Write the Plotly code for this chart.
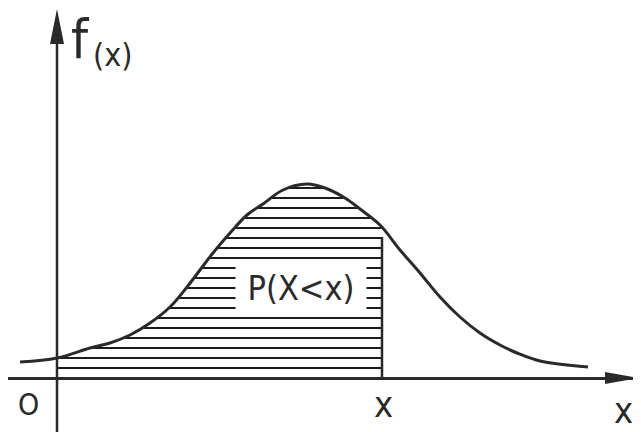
import plotly.graph_objects

# 曲線 f(x) 的讀值 (以 y 軸為 x=0, x 軸為 f=0)
curve_x = [-37, 0, 33, 53, 73, 93, 113, 130, 143, 156, 173, 190, 206, 226, 250, 268, 288, 303, 323, 343, 363, 383, 403, 423, 443, 460, 483, 531]
curve_f = [16, 20, 30, 35, 43, 55, 71, 91, 108, 125, 145, 163, 174, 188, 194, 190, 180, 169, 153, 128, 105, 81, 61, 45, 33, 25, 17, 11]

# 陰影區域 P(X<x) 的邊界
shade_x = [0, 33, 53, 73, 93, 113, 130, 143, 156, 173, 190, 206, 226, 250, 268, 288, 303, 325]
shade_f = [20, 30, 35, 43, 55, 71, 91, 108, 125, 145, 163, 174, 188, 194, 190, 180, 169, 151]

# x 值與其垂直線高度
x_value = 325
x_line_top = 141

# 文字標籤
label_prob = 'P(X<x)'
label_f = 'f'
label_fx = '(x)'
label_origin = 'O'
label_x_value = 'x'
label_x_axis = 'x'

ink = '#2a2a2a'
font_family = 'DejaVu Sans Condensed, DejaVu Sans'
hatch_step = 10
plot_top = 370


def text(x, y, s, size):
    return dict(
        x=x, y=y, xref='x', yref='y', text=s, showarrow=False,
        font=dict(family=font_family, size=size, color=ink),
    )


figure = plotly.graph_objects.Figure()

# 陰影橫線: 從 y 軸畫到 x, 曲線上方再用白色遮掉
hatch_x = []
hatch_y = []
for level in range(hatch_step, max(shade_f), hatch_step):
    hatch_x += [shade_x[0], x_value, None]
    hatch_y += [level, level, None]
figure.add_trace(
    plotly.graph_objects.Scatter(
        x=hatch_x, y=hatch_y, mode='lines',
        line=dict(width=2, color='#1c1c1c'),
        hoverinfo='skip',
    )
)
figure.add_trace(
    plotly.graph_objects.Scatter(
        x=shade_x, y=[plot_top] * len(shade_x), mode='lines',
        line=dict(width=0), hoverinfo='skip',
    )
)
figure.add_trace(
    plotly.graph_objects.Scatter(
        x=shade_x, y=shade_f, mode='lines',
        line=dict(width=0, shape='spline'),
        fill='tonexty', fillcolor='white',
        hoverinfo='skip',
    )
)

# 曲線
figure.add_trace(
    plotly.graph_objects.Scatter(
        x=curve_x,
        y=curve_f,
        mode='lines',
        line=dict(width=3, shape='spline', color=ink),
        hoverinfo='skip',
    )
)

# x 處的垂直線
figure.add_trace(
    plotly.graph_objects.Scatter(
        x=[x_value, x_value],
        y=[0, x_line_top],
        mode='lines',
        line=dict(width=2.5, color=ink),
        hoverinfo='skip',
    )
)

annotations = [
    dict(
        x=244, y=90, xref='x', yref='y', text=label_prob, showarrow=False,
        font=dict(family=font_family, size=34, color=ink),
        bgcolor='white', width=128, height=50,
    ),
    text(23, 339, label_f, 54),
    text(56, 323, label_fx, 32),
    text(-29, -26, label_origin, 30),
    text(x_value + 1, -26, label_x_value, 36),
    text(566, -32, label_x_axis, 36),
]

# 座標軸與箭頭
shapes = [
    dict(type='line', xref='x', yref='y', x0=0, x1=0, y0=-54, y1=340,
         line=dict(width=2.5, color=ink)),
    dict(type='path', xref='x', yref='y', path='M 0 369 L -7 334 L 7 334 Z',
         fillcolor=ink, line=dict(width=0)),
    dict(type='path', xref='x', yref='y', path='M 581 0 L 548 6 L 548 -6 Z',
         fillcolor=ink, line=dict(width=0)),
]

# 頁面本身有 8px 邊距, 範圍對齊視窗
figure.update_layout(
    width=633,
    height=424,
    margin=dict(l=0, r=0, t=0, b=0),
    paper_bgcolor='white',
    plot_bgcolor='white',
    showlegend=False,
    annotations=annotations,
    shapes=shapes,
    xaxis=dict(range=[-49, 584], showgrid=False, showticklabels=False, ticks='',
               zeroline=False, fixedrange=True),
    yaxis=dict(range=[-54, plot_top], showgrid=False, showticklabels=False, ticks='',
               zeroline=True, zerolinecolor=ink, zerolinewidth=2.5, fixedrange=True),
)

figure.write_html('out.html')
